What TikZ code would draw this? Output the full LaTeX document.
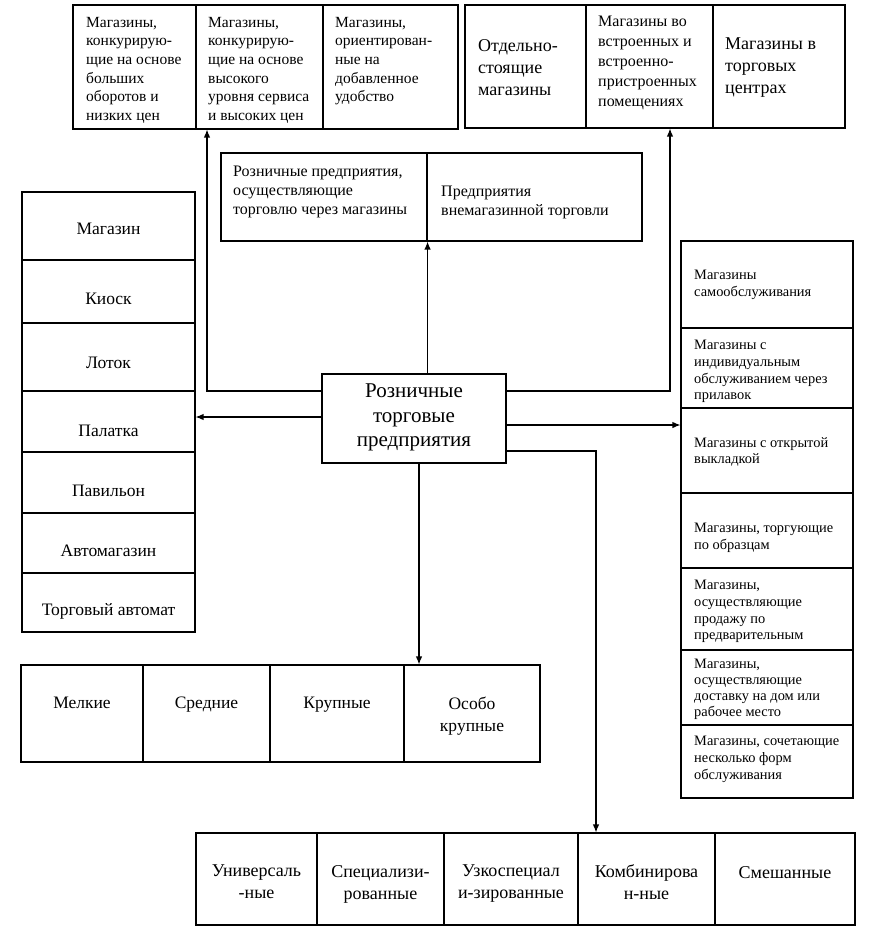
\documentclass[tikz,border=0pt]{standalone}
\usepackage{fontspec}
\setmainfont{Liberation Serif}
\usetikzlibrary{arrows.meta,fit}
\begin{document}
\begin{tikzpicture}[x=1pt,y=-1pt,
  cellbox/.style={draw, line width=1.1pt, inner sep=0pt},
  conn/.style={line width=1.2pt},
  arr/.style={conn, -{Latex[length=8pt,width=6.5pt]}},
  tl/.style={inner sep=0pt, anchor=north west, align=left},
  tc/.style={inner sep=0pt, anchor=north, align=center},
  fA/.style={font=\fontsize{15.5}{18.6}\selectfont},
  fB/.style={font=\fontsize{18}{22}\selectfont},
  fBs/.style={font=\fontsize{16}{20}\selectfont},
  fM/.style={font=\fontsize{16}{19}\selectfont},
  fC/.style={font=\fontsize{21}{24.5}\selectfont},
  fL/.style={font=\fontsize{17.5}{20}\selectfont},
  fR/.style={font=\fontsize{14.4}{16.7}\selectfont},
  fRt/.style={font=\fontsize{14.4}{15.8}\selectfont},
  fS/.style={font=\fontsize{17.5}{21.5}\selectfont},
  fD/.style={font=\fontsize{18}{22}\selectfont}
]
\useasboundingbox (0,0) rectangle (879,937);
\fill[white] (0,0) rectangle (879,937);

% top-left group
\node[cellbox, fit={(73,5) (196,129)}] (tl1) {};
\node[cellbox, fit={(196,5) (323,129)}] (tl2) {};
\node[cellbox, fit={(323,5) (458,129)}] (tl3) {};
\node[tl,fA] (ttl1) at (86,17) {Магазины,\\конкурирую-\\щие на основе\\больших\\оборотов и\\низких цен};
\node[tl,fA] (ttl2) at (208,17) {Магазины,\\конкурирую-\\щие на основе\\высокого\\уровня сервиса\\и высоких цен};
\node[tl,fA] (ttl3) at (335,17) {Магазины,\\ориентирован-\\ные на\\добавленное\\удобство};

% top-right group
\node[cellbox, fit={(465,5) (586,128)}] (tr1) {};
\node[cellbox, fit={(586,5) (713,128)}] (tr2) {};
\node[cellbox, fit={(713,5) (845,128)}] (tr3) {};
\node[tl,fB] (ttr1) at (478,39) {Отдельно-\\стоящие\\магазины};
\node[tl,fBs] (ttr2) at (598,16) {Магазины во\\встроенных и\\встроенно-\\пристроенных\\помещениях};
\node[tl,fB] (ttr3) at (725,38) {Магазины в\\торговых\\центрах};

% middle box
\node[cellbox, fit={(221,153) (427,241)}] (m1) {};
\node[cellbox, fit={(427,153) (642,241)}] (m2) {};
\node[tl,fM] (tm1) at (233,166) {Розничные предприятия,\\осуществляющие\\торговлю через магазины};
\node[tl,fM] (tm2) at (441,186) {Предприятия\\внемагазинной торговли};

% left column
\node[cellbox, fit={(22,192) (195,260)}] (L1) {};
\node[cellbox, fit={(22,260) (195,323)}] (L2) {};
\node[cellbox, fit={(22,323) (195,391)}] (L3) {};
\node[cellbox, fit={(22,391) (195,452)}] (L4) {};
\node[cellbox, fit={(22,452) (195,513)}] (L5) {};
\node[cellbox, fit={(22,513) (195,573)}] (L6) {};
\node[cellbox, fit={(22,573) (195,632)}] (L7) {};
\node[fL, inner sep=0pt] (tL1) at ([yshift=-3pt]L1.center) {Магазин};
\node[fL, inner sep=0pt] (tL2) at ([yshift=-7pt]L2.center) {Киоск};
\node[fL, inner sep=0pt] (tL3) at ([yshift=-6pt]L3.center) {Лоток};
\node[fL, inner sep=0pt] (tL4) at ([yshift=-9pt]L4.center) {Палатка};
\node[fL, inner sep=0pt] (tL5) at ([yshift=-8pt]L5.center) {Павильон};
\node[fL, inner sep=0pt] (tL6) at ([yshift=-8pt]L6.center) {Автомагазин};
\node[fL, inner sep=0pt] (tL7) at ([yshift=-9pt]L7.center) {Торговый автомат};

% right column
\node[cellbox, fit={(681,241) (853,328)}] (R1) {};
\node[cellbox, fit={(681,328) (853,408)}] (R2) {};
\node[cellbox, fit={(681,408) (853,493)}] (R3) {};
\node[cellbox, fit={(681,493) (853,568)}] (R4) {};
\node[cellbox, fit={(681,568) (853,650)}] (R5) {};
\node[cellbox, fit={(681,650) (853,725)}] (R6) {};
\node[cellbox, fit={(681,725) (853,798)}] (R7) {};
\node[tl,fR] (tR1) at (694,270) {Магазины\\самообслуживания};
\node[tl,fR] (tR2) at (694,340) {Магазины с\\индивидуальным\\обслуживанием через\\прилавок};
\node[tl,fR] (tR3) at (694,437) {Магазины с открытой\\выкладкой};
\node[tl,fR] (tR4) at (694,523) {Магазины, торгующие\\по образцам};
\node[tl,fR] (tR5) at (694,580) {Магазины,\\осуществляющие\\продажу по\\предварительным};
\node[tl,fRt] (tR6) at (694,659) {Магазины,\\осуществляющие\\доставку на дом или\\рабочее место};
\node[tl,fR] (tR7) at (694,736) {Магазины, сочетающие\\несколько форм\\обслуживания};

% center
\node[cellbox, fit={(322,374) (506,463)}] (C) {};
\node[fC, inner sep=0pt, align=center] (tC) at ([yshift=1pt]C.center) {Розничные\\торговые\\предприятия};

% size group
\node[cellbox, fit={(21,665) (143,762)}] (S1) {};
\node[cellbox, fit={(143,665) (270,762)}] (S2) {};
\node[cellbox, fit={(270,665) (404,762)}] (S3) {};
\node[cellbox, fit={(404,665) (540,762)}] (S4) {};
\node[tc,fS] (tS1) at (S1.north |- 0,697) {Мелкие};
\node[tc,fS] (tS2) at (S2.north |- 0,697) {Средние};
\node[tc,fS] (tS3) at (S3.north |- 0,697) {Крупные};
\node[tc,fS] (tS4) at (S4.north |- 0,697) {Особо\\крупные};

% assortment group
\node[cellbox, fit={(196,833) (317,925)}] (B1) {};
\node[cellbox, fit={(317,833) (444,925)}] (B2) {};
\node[cellbox, fit={(444,833) (578,925)}] (B3) {};
\node[cellbox, fit={(578,833) (715,925)}] (B4) {};
\node[cellbox, fit={(715,833) (855,925)}] (B5) {};
\node[tc,fD] (tB1) at (B1.north |- 0,865) {Универсаль\\-ные};
\node[tc,fD] (tB2) at (B2.north |- 0,865) {Специализи-\\рованные};
\node[tc,fD] (tB3) at (B3.north |- 0,865) {Узкоспециал\\и-зированные};
\node[tc,fD] (tB4) at (B4.north |- 0,864) {Комбинирова\\н-ные};
\node[tc,fD] (tB5) at (B5.north |- 0,866) {Смешанные};

% connectors
\coordinate (hL) at (0,417);
\coordinate (hR) at (0,425);
\coordinate (hU) at (0,391);
\coordinate (hD) at (0,451);
\coordinate (vTL) at (207,0);
\coordinate (vTR) at (670,0);
\coordinate (vS) at (419,0);
\coordinate (vB) at (596,0);
\draw[arr] (C.west |- hL) -- (L4.east |- hL);
\draw[arr] (C.east |- hR) -- (R3.west |- hR);
\draw[arr] (C.north -| m1.east) -- (m1.south east);
\draw[arr] (C.west |- hU) -| (tl2.south -| vTL);
\draw[arr] (C.east |- hU) -| (tr2.south -| vTR);
\draw[arr] (C.south -| vS) -- (S4.north -| vS);
\draw[arr] (C.east |- hD) -| (B4.north -| vB);
\end{tikzpicture}
\end{document}
